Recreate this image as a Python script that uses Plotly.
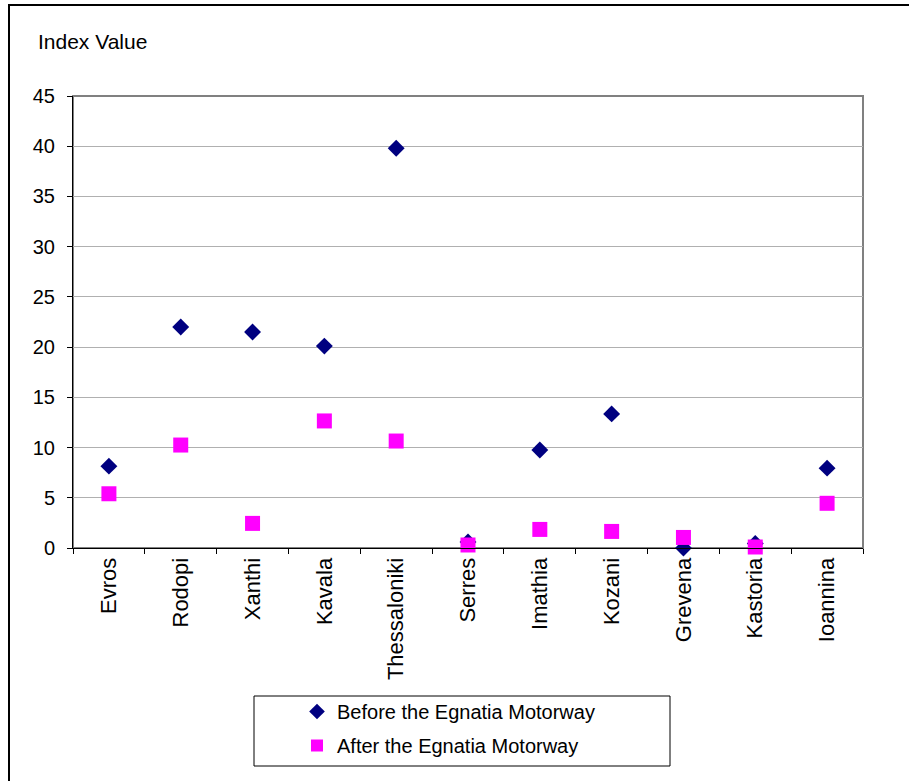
import plotly.graph_objects as go

categories = ["Evros", "Rodopi", "Xanthi", "Kavala", "Thessaloniki", "Serres",
              "Imathia", "Kozani", "Grevena", "Kastoria", "Ioannina"]
before = [8.15, 22.0, 21.5, 20.1, 39.8, 0.6, 9.75, 13.35, 0.0, 0.45, 7.95]
after = [5.4, 10.25, 2.45, 12.65, 10.65, 0.3, 1.85, 1.65, 1.05, 0.1, 4.45]
y_ticks = [0, 5, 10, 15, 20, 25, 30, 35, 40, 45]

# the page body margin is removed below, so figure pixels == window pixels
W, H = 909, 781
L, R, T, B = 73, 863, 96, 548
FONT = "Liberation Sans, Arial, sans-serif"


def px(x):
    return (x - L) / (R - L)


def py(y):
    return (B - y) / (B - T)


fig = go.Figure()
fig.add_trace(go.Scatter(
    x=categories, y=before, mode="markers", name="Before the Egnatia Motorway",
    marker=dict(symbol="diamond", size=13, color="#000080"),
    cliponaxis=False, legendgroup="a"))
fig.add_trace(go.Scatter(
    x=categories, y=after, mode="markers", name="After the Egnatia Motorway",
    marker=dict(symbol="square", size=15, color="#FF00FF"),
    cliponaxis=False, legendgroup="b"))

fig.update_layout(
    width=W, height=H,
    margin=dict(l=L, r=W - R, t=T, b=H - B, pad=0),
    paper_bgcolor="white", plot_bgcolor="white",
    font=dict(family=FONT, color="black", size=20),
    showlegend=True,
    legend=dict(x=px(297), y=py(692), xanchor="left", yanchor="top",
                bgcolor="rgba(0,0,0,0)", borderwidth=0,
                font=dict(family=FONT, size=20, color="black"),
                traceorder="grouped", tracegroupgap=5, itemsizing="constant"),
    xaxis=dict(type="category", range=[-0.5, 10.5], showgrid=False,
               showline=True, linecolor="black", linewidth=1,
               ticks="outside", ticklen=5, tickcolor="black", tickson="boundaries",
               tickangle=-90, tickfont=dict(size=22, family=FONT),
               zeroline=False),
    yaxis=dict(range=[0, 45], tickvals=y_ticks, showgrid=True,
               gridcolor="#b0b0b0", gridwidth=1,
               showline=True, linecolor="black", linewidth=1,
               ticks="outside", ticklen=5, tickcolor="black",
               ticklabelstandoff=8,
               tickfont=dict(size=20, family=FONT), zeroline=False),
    shapes=[
        # plot area border (gray)
        dict(type="rect", xref="paper", yref="paper", x0=0, y0=0, x1=1, y1=1,
             line=dict(color="#808080", width=2), layer="below"),
        # outer chart border
        dict(type="rect", xref="paper", yref="paper", x0=px(9), y0=py(5),
             x1=px(909 + 20), y1=py(781 + 20), line=dict(color="black", width=2)),
        # legend box
        dict(type="rect", xref="paper", yref="paper", x0=px(254), y0=py(696),
             x1=px(670), y1=py(766), line=dict(color="black", width=1)),
    ],
    annotations=[
        dict(text="Index Value", xref="paper", yref="paper", x=px(36), y=py(41),
             xanchor="left", yanchor="middle", showarrow=False,
             font=dict(size=21, family=FONT, color="black")),
    ],
)

fig.write_html("out.html",
               config={"displayModeBar": False},
               post_script="document.body.style.margin='0';"
                           "document.body.style.overflow='hidden';")
